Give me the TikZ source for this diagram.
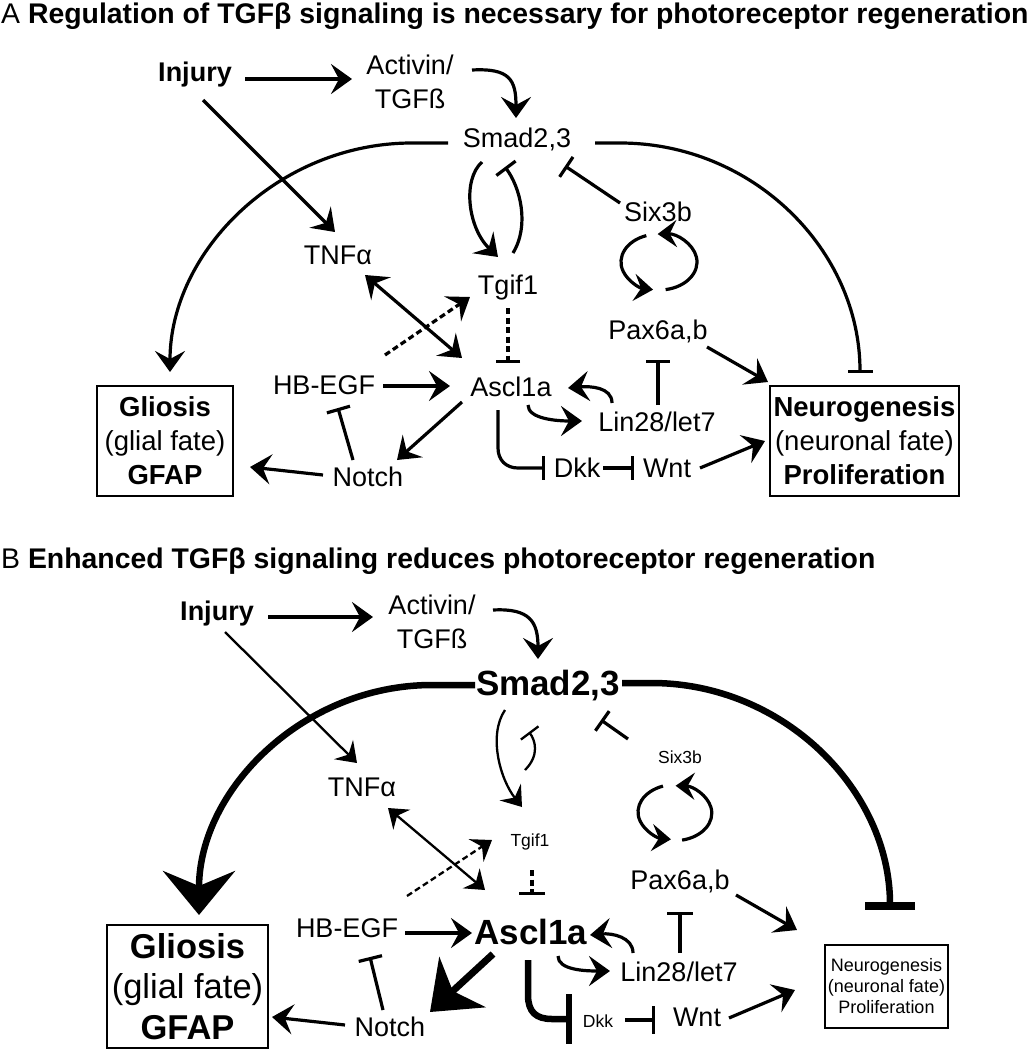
\documentclass[tikz,border=0pt]{standalone}
\usepackage{fontspec}
\setmainfont{Liberation Sans}
\usetikzlibrary{arrows.meta,calc}
\begin{document}
\begin{tikzpicture}[x=1pt,y=-1pt,
 lbl/.style={inner sep=0pt,font=\fontsize{27}{34}\selectfont,text height=19.4pt,text depth=0pt},
 lblbf/.style={inner sep=0pt,font=\fontsize{27}{34}\selectfont\bfseries,text height=19.4pt,text depth=0pt},
 lblbig/.style={inner sep=0pt,font=\fontsize{35}{42}\selectfont\bfseries,text height=25.2pt,text depth=0pt},
 lblsm/.style={inner sep=0pt,font=\fontsize{17.5}{21}\selectfont,text height=12.6pt,text depth=0pt},
 two/.style={inner sep=0pt,align=center,font=\fontsize{27}{34.5}\selectfont},
 boxA/.style={draw,line width=2.7pt,inner sep=0pt,align=center,font=\fontsize{27.5}{34}\selectfont,minimum width=136pt,minimum height=110pt},
 boxBg/.style={draw,line width=2.7pt,inner sep=0pt,align=center,font=\fontsize{34.5}{40.5}\selectfont,minimum width=161pt,minimum height=123pt},
 boxBn/.style={draw,line width=2.7pt,inner sep=0pt,align=center,font=\fontsize{18}{21}\selectfont,minimum width=123pt,minimum height=83pt},
 ttl/.style={anchor=base west,inner sep=0pt,font=\fontsize{28.4}{34}\selectfont},
 lA/.style={line width=3.2pt},
 lB/.style={line width=2.3pt},
 ar/.style={-{Stealth[length=21pt,width=30pt,inset=8pt]}},
 arB/.style={-{Stealth[length=19pt,width=27pt,inset=7pt]}},
 bi/.style={{Stealth[length=21pt,width=30pt,inset=8pt]}-{Stealth[length=21pt,width=30pt,inset=8pt]}},
 biB/.style={{Stealth[length=18pt,width=26pt,inset=6pt]}-{Stealth[length=18pt,width=26pt,inset=6pt]}},
 ih/.style={-{Bar[width=24pt]}},
 dsh/.style={dash pattern=on 6pt off 3.5pt}
]
\fill[white] (0,0) rectangle (1031,1050);
\useasboundingbox (0,0) rectangle (1031,1050);

% ---------------- Panel A ----------------
\node[ttl] (tA) at (1,23) {A \textbf{Regulation of TGFβ signaling is necessary for photoreceptor regeneration}};
\node[lblbf] (injA) at (195,72) {Injury};
\node[two] (actA) at (410,82) {Activin/\\TGFß};
\node[lbl] (smadA) at (517,138) {Smad2,3};
\node[lbl] (sixA) at (658,212) {Six3b};
\node[lbl] (tnfA) at (338,255) {TNFα};
\node[lbl] (tgifA) at (508,285) {Tgif1};
\node[lbl] (paxA) at (658,330) {Pax6a,b};
\node[lbl] (hbA) at (324,385) {HB-EGF};
\node[lbl] (asclA) at (511,387) {Ascl1a};
\node[lbl] (linA) at (657,422) {Lin28/let7};
\node[lbl] (notchA) at (368,477) {Notch};
\node[lbl] (dkkA) at (577,468) {Dkk};
\node[lbl] (wntA) at (667,468) {Wnt};
\node[boxA] (gliA) at (165,441) {\textbf{Gliosis}\\(glial fate)\\\textbf{GFAP}};
\node[boxA,minimum width=189pt] (neuA) at (864.5,441) {\textbf{Neurogenesis}\\(neuronal fate)\\\textbf{Proliferation}};

\draw[lA,ar] ($(injA)+(50,7)$) -- ($(actA)+(-58,-3)$);
\draw[lA,ar] ($(actA)+(62,-12)$) .. controls +(38,-2) and +(0,-38) .. ($(smadA)+(-1,-20)$);
\draw[lA,ar] ($(smadA)+(-69,5)$) -- ++(-36,0) .. controls +(-134,0) and +(0,-120) .. ($(gliA)+(5,-69)$);
\draw[lA,-{Bar[width=25pt]}] ($(smadA)+(78,5)$) -- ++(25,0) .. controls +(133,0) and +(0,-123) .. ($(neuA)+(-4.5,-68)$);
\draw[lA,ih] ($(sixA)+(-38,-9)$) -- ($(smadA)+(48,28)$);
\draw[lA,ar] ($(smadA)+(-35,24)$) .. controls +(-20,18) and +(-30,-29) .. ($(tgifA)+(-10,-28)$);
\draw[lA,ih] ($(tgifA)+(5,-32)$) .. controls +(17,-28) and +(15,20) .. ($(smadA)+(-12,29)$);
\draw[lA,dsh,ih] ($(tgifA)+(0,23)$) -- ($(asclA)+(-3,-24)$);
\draw[lA,ar] ($(injA)+(8,28)$) -- ($(tnfA)+(-3,-23)$);
\draw[lA,bi] ($(tnfA)+(27,20)$) -- ($(asclA)+(-49,-29)$);
\draw[lA,dsh,ar] ($(hbA)+(61,-30)$) -- ($(tgifA)+(-38,12)$);
\draw[lA,ar] ($(hbA)+(59,1)$) -- ($(asclA)+(-61,-1)$);
\draw[lA,ar] ($(asclA)+(-49,15)$) -- ($(notchA)+(29,-17)$);
\draw[lA,ih] ($(notchA)+(-15,-17)$) -- ($(hbA)+(14,23)$);
\draw[lA,ar] ($(notchA)+(-45,-2)$) -- ($(gliA)+(85,26)$);
\draw[lA,arB] ($(sixA)+(-11.7,23.6)$) arc[start angle=-109.5,end angle=-261,x radius=38,y radius=28];
\draw[lA,arB] ($(paxA)+(7.6,-40.4)$) arc[start angle=-280,end angle=-452,x radius=38,y radius=28];
\draw[lA,ar] ($(paxA)+(49,17)$) -- ($(neuA)+(-96.5,-59)$);
\draw[lA,ih] ($(linA)+(1,-17)$) -- ($(paxA)+(0,30)$);
\draw[lA,ar] ($(linA)+(-45,-19)$) .. controls +(0,-16) and +(22,-2) .. ($(asclA)+(57,1)$);
\draw[lA,ar] ($(asclA)+(17,18)$) .. controls +(0,14) and +(-25,0) .. ($(linA)+(-75,-1)$);
\draw[lA,ih] ($(asclA)+(-13,23)$) -- ++(0,38) .. controls +(0,12) and +(-12,0) .. ++(20,20) -- ($(dkkA)+(-32,0)$);
\draw[lA,ih] ($(dkkA)+(26,0)$) -- ($(wntA)+(-33,0)$);
\draw[lA,ar] ($(wntA)+(33,0)$) -- ($(neuA)+(-99.5,0)$);

% ---------------- Panel B ----------------
\node[ttl] (tB) at (1,568) {B \textbf{Enhanced TGFβ signaling reduces photoreceptor regeneration}};
\node[lblbf] (injB) at (217,611) {Injury};
\node[two] (actB) at (432,622) {Activin/\\TGFß};
\node[lblbig] (smadB) at (548,683) {Smad2,3};
\node[lblsm] (sixB) at (680,757) {Six3b};
\node[lbl] (tnfB) at (362,787) {TNFα};
\node[lblsm] (tgifB) at (530,840) {Tgif1};
\node[lbl] (paxB) at (680,880) {Pax6a,b};
\node[lbl] (hbB) at (347,928) {HB-EGF};
\node[lblbig] (asclB) at (531,932) {Ascl1a};
\node[lbl] (linB) at (679,972) {Lin28/let7};
\node[lbl] (notchB) at (390,1027) {Notch};
\node[lblsm] (dkkB) at (598,1021) {Dkk};
\node[lbl] (wntB) at (697,1017) {Wnt};
\node[boxBg] (gliB) at (187.5,986.5) {\textbf{Gliosis}\\(glial fate)\\\textbf{GFAP}};
\node[boxBn] (neuB) at (886.5,986.5) {Neurogenesis\\(neuronal fate)\\Proliferation};

\draw[lA,ar] ($(injB)+(51,6)$) -- ($(actB)+(-59,-5)$);
\draw[lA,ar] ($(actB)+(61,-12)$) .. controls +(37,-2) and +(0,-37) .. ($(smadB)+(-10,-24)$);
\draw[line width=6.5pt,-{Stealth[length=44pt,width=72pt,inset=15pt]}] ($(smadB)+(-73,2)$) -- ++(-43,0) .. controls +(-129,0) and +(0,-125) .. ($(gliB)+(11.5,-71.5)$);
\draw[line width=6.5pt,-{Bar[width=50pt,line width=8pt]}] ($(smadB)+(74,0)$) -- ++(29.5,0) .. controls +(132,0) and +(0,-120) .. ($(neuB)+(3.5,-76.5)$);
\draw[lA,ih] ($(sixB)+(-52,-18)$) -- ($(smadB)+(53,37)$);
\draw[lB,arB] ($(smadB)+(-43,27)$) .. controls +(-17,25) and +(-22,-28) .. ($(tgifB)+(-8,-33)$);
\draw[lB,-{Bar[width=22pt]}] ($(tgifB)+(-5,-70)$) .. controls +(15,-15) and +(6,8) .. ($(smadB)+(-19,49)$);
\draw[lA,dsh,-{Bar[width=26pt]}] ($(tgifB)+(2,30)$) -- ($(asclB)+(1,-37)$);
\draw[lB,arB] ($(injB)+(8,21)$) -- ($(tnfB)+(-5,-24)$);
\draw[lB,biB] ($(tnfB)+(26,21)$) -- ($(asclB)+(-46,-42)$);
\draw[lB,dsh,arB] ($(hbB)+(60,-32)$) -- ($(tgifB)+(-38,0)$);
\draw[lA,ar] ($(hbB)+(58,5)$) -- ($(asclB)+(-59,1)$);
\draw[line width=7pt,-{Stealth[length=44pt,width=68pt,inset=13pt]}] ($(asclB)+(-38,22)$) -- ($(notchB)+(40,-15)$);
\draw[lA,ih] ($(notchB)+(-7,-17)$) -- ($(hbB)+(23,29)$);
\draw[lA,ar] ($(notchB)+(-45,-2)$) -- ($(gliB)+(84.5,30.5)$);
\draw[lA,arB] ($(sixB)+(-17,29.1)$) arc[start angle=-109.5,end angle=-263,x radius=37.5,y radius=27.5];
\draw[lA,arB] ($(paxB)+(2.1,-39.9)$) arc[start angle=-282,end angle=-448,x radius=37.5,y radius=27.5];
\draw[lA,ar] ($(paxB)+(56,15)$) -- ($(neuB)+(-89.5,-56.5)$);
\draw[lA,-{Bar[width=26pt]}] ($(linB)+(1,-19)$) -- ($(paxB)+(0,32)$);
\draw[lA,ar] ($(linB)+(-46,-19)$) .. controls +(0,-16) and +(22,-2) .. ($(asclB)+(59,3)$);
\draw[lA,ar] ($(asclB)+(27,24)$) .. controls +(0,14) and +(-25,0) .. ($(linB)+(-69,-1)$);
\draw[line width=6.5pt,-{Bar[width=50pt]}] ($(asclB)+(-3,28)$) -- ++(0,35) .. controls +(0,17) and +(-16,0) .. ++(24,24) -- ($(dkkB)+(-26,-2)$);
\draw[lA,-{Bar[width=28pt]}] ($(dkkB)+(27,-1)$) -- ($(wntB)+(-42,3)$);
\draw[lA,ar] ($(wntB)+(32,1)$) -- ($(neuB)+(-91.5,3.5)$);
\end{tikzpicture}
\end{document}
